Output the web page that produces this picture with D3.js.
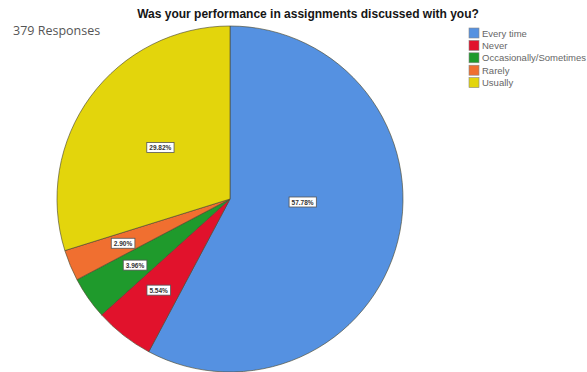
<!DOCTYPE html>
<html>
<head>
<meta charset="utf-8">
<script src="https://cdn.jsdelivr.net/npm/d3@7"></script>
<style>
  html, body { margin: 0; padding: 0; background: #fff; overflow: hidden; }
  svg { display: block; }
</style>
</head>
<body>
<svg id="chart" width="587" height="372"></svg>
<script>
// Survey answers, in drawing order (clockwise from 12 o'clock)
const categories = ["Every time", "Never", "Occasionally/Sometimes", "Rarely", "Usually"];
const percentages = [57.78, 5.54, 3.96, 2.90, 29.82];
const labelTexts = ["57.78%", "5.54%", "3.96%", "2.90%", "29.82%"];
const colors = ["#5591e1", "#e1122c", "#1f9a2c", "#f06f30", "#e3d50c"];
const titleText = "Was your performance in assignments discussed with you?";
const responsesText = "379 Responses";

const svg = d3.select("#chart");
const cx = 230, cy = 199, radius = 173;

const pie = d3.pie().sort(null).value(d => d.value);
const data = categories.map((c, i) => ({ name: c, value: percentages[i], label: labelTexts[i], color: colors[i] }));
const arcs = pie(data);

const arc = d3.arc().innerRadius(0).outerRadius(radius);

const g = svg.append("g").attr("transform", `translate(${cx},${cy})`);
g.selectAll("path.slice")
  .data(arcs)
  .enter().append("path")
  .attr("class", "slice")
  .attr("d", arc)
  .attr("fill", d => d.data.color)
  .attr("stroke", "#4d4a30")
  .attr("stroke-width", 0.8)
  .attr("stroke-opacity", 0.8);

// Label distance from the centre as a share of the radius: thin slices further out
const labelFrac = d => (d.endAngle - d.startAngle) < 0.5 ? 0.67 : ((d.endAngle - d.startAngle) > 3 ? 0.42 : 0.5);

const labels = g.selectAll("g.lab")
  .data(arcs)
  .enter().append("g")
  .attr("class", "lab")
  .attr("transform", d => {
    const r = radius * labelFrac(d);
    let a = (d.startAngle + d.endAngle) / 2;
    if ((d.endAngle - d.startAngle) > 3) a -= 0.2;
    return `translate(${Math.sin(a) * r},${-Math.cos(a) * r})`;
  });

labels.append("text")
  .attr("text-anchor", "middle")
  .attr("dy", "0.35em")
  .attr("font-family", "Liberation Sans, Arial, sans-serif")
  .attr("font-weight", "bold")
  .attr("font-size", 6.5)
  .attr("fill", "#333")
  .text(d => d.data.label)
  .each(function () {
    const b = this.getBBox();
    d3.select(this.parentNode).insert("rect", "text")
      .attr("x", b.x - 2.5)
      .attr("y", b.y - 1.5)
      .attr("width", b.width + 5)
      .attr("height", b.height + 3)
      .attr("fill", "#fff")
      .attr("stroke", "#555")
      .attr("stroke-width", 0.8);
  });

// Title
svg.append("text")
  .attr("x", 308)
  .attr("y", 18)
  .attr("text-anchor", "middle")
  .attr("font-family", "Liberation Sans, Arial, sans-serif")
  .attr("font-weight", "bold")
  .attr("font-size", 12)
  .attr("fill", "#151515")
  .text(titleText);

// Response count
svg.append("text")
  .attr("x", 13)
  .attr("y", 35)
  .attr("font-family", "Open Sans, Liberation Sans, sans-serif")
  .attr("font-size", 12.5)
  .attr("fill", "#555")
  .text(responsesText);

// Legend
const legend = svg.append("g").attr("transform", "translate(469,28)");
const item = legend.selectAll("g")
  .data(data)
  .enter().append("g")
  .attr("transform", (d, i) => `translate(0,${i * 12.4})`);
item.append("rect")
  .attr("width", 10)
  .attr("height", 10)
  .attr("fill", d => d.color)
  .attr("stroke", "#888")
  .attr("stroke-width", 0.6);
item.append("text")
  .attr("x", 13)
  .attr("y", 8.5)
  .attr("font-family", "Liberation Sans, Arial, sans-serif")
  .attr("font-size", 9.5)
  .attr("fill", "#666")
  .text(d => d.name);
</script>
</body>
</html>
